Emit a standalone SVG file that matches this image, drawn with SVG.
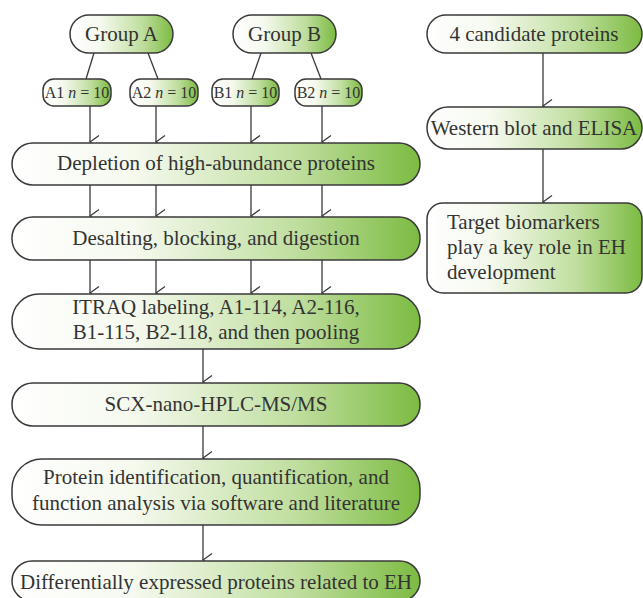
<svg xmlns="http://www.w3.org/2000/svg" width="643" height="598" viewBox="0 0 643 598">
<defs>
<linearGradient id="g" x1="0" y1="0" x2="1" y2="0">
<stop offset="0" stop-color="#ffffff"/>
<stop offset="0.3" stop-color="#f5f9ee"/>
<stop offset="0.7" stop-color="#bfde9e"/>
<stop offset="1" stop-color="#7cbb42"/>
</linearGradient>
<marker id="arr" markerWidth="16" markerHeight="11" refX="8" refY="10" orient="auto-start-reverse" markerUnits="userSpaceOnUse" viewBox="0 0 16 11">
<polyline points="1.5,1 8,10 14.5,1" fill="none" stroke="#3a3a3a" stroke-width="1.3"/>
</marker>
</defs>
<style>
.b{fill:url(#g);stroke:#3a3a3a;stroke-width:1.5}
.t{font-family:"Liberation Serif","DejaVu Serif",serif;fill:#333;font-size:21px;text-anchor:middle}
.s{font-family:"Liberation Serif","DejaVu Serif",serif;fill:#333;font-size:16px;text-anchor:middle}
.l{font-family:"Liberation Serif","DejaVu Serif",serif;fill:#333;font-size:21px}
.c{stroke:#3a3a3a;stroke-width:1.3;fill:none}
</style>
<g id="connectors">
<line class="c" x1="94" y1="53" x2="86" y2="79"/>
<line class="c" x1="148" y1="53" x2="158" y2="79"/>
<line class="c" x1="261" y1="53" x2="252" y2="79"/>
<line class="c" x1="311" y1="53" x2="321" y2="79"/>
<line class="c" x1="90" y1="106" x2="90" y2="142" marker-end="url(#arr)"/>
<line class="c" x1="156" y1="106" x2="156" y2="142" marker-end="url(#arr)"/>
<line class="c" x1="251" y1="106" x2="251" y2="142" marker-end="url(#arr)"/>
<line class="c" x1="322" y1="106" x2="322" y2="142" marker-end="url(#arr)"/>
<line class="c" x1="90" y1="185" x2="90" y2="216" marker-end="url(#arr)"/>
<line class="c" x1="156" y1="185" x2="156" y2="216" marker-end="url(#arr)"/>
<line class="c" x1="251" y1="185" x2="251" y2="216" marker-end="url(#arr)"/>
<line class="c" x1="322" y1="185" x2="322" y2="216" marker-end="url(#arr)"/>
<line class="c" x1="90" y1="260" x2="90" y2="293" marker-end="url(#arr)"/>
<line class="c" x1="156" y1="260" x2="156" y2="293" marker-end="url(#arr)"/>
<line class="c" x1="251" y1="260" x2="251" y2="293" marker-end="url(#arr)"/>
<line class="c" x1="322" y1="260" x2="322" y2="293" marker-end="url(#arr)"/>
<line class="c" x1="203" y1="349" x2="203" y2="382" marker-end="url(#arr)"/>
<line class="c" x1="203" y1="426" x2="203" y2="458" marker-end="url(#arr)"/>
<line class="c" x1="203" y1="525" x2="203" y2="560" marker-end="url(#arr)"/>
<line class="c" x1="543" y1="53" x2="543" y2="106" marker-end="url(#arr)"/>
<line class="c" x1="543" y1="149" x2="543" y2="202" marker-end="url(#arr)"/>
</g>
<g id="groupA"><rect class="b" x="70" y="15" width="103" height="38" rx="19"/><text class="t" x="121.5" y="41" font-size="23">Group A</text></g>
<g id="groupB"><rect class="b" x="233" y="15" width="103" height="38" rx="19"/><text class="t" x="284.5" y="41" font-size="23">Group B</text></g>
<g id="a1"><rect class="b" x="43" y="79" width="68" height="27" rx="11"/><text class="s" x="77" y="98">A1 <tspan font-style="italic">n</tspan> = 10</text></g>
<g id="a2"><rect class="b" x="130" y="79" width="68" height="27" rx="11"/><text class="s" x="164" y="98">A2 <tspan font-style="italic">n</tspan> = 10</text></g>
<g id="b1"><rect class="b" x="212" y="79" width="67" height="27" rx="11"/><text class="s" x="245.5" y="98">B1 <tspan font-style="italic">n</tspan> = 10</text></g>
<g id="b2"><rect class="b" x="295" y="79" width="67" height="27" rx="11"/><text class="s" x="328.5" y="98">B2 <tspan font-style="italic">n</tspan> = 10</text></g>
<g id="depletion"><rect class="b" x="12" y="143" width="408" height="42" rx="21"/><text class="t" x="216" y="170">Depletion of high-abundance proteins</text></g>
<g id="desalting"><rect class="b" x="12" y="217" width="408" height="43" rx="21"/><text class="t" x="216" y="245">Desalting, blocking, and digestion</text></g>
<g id="itraq"><rect class="b" x="12" y="294" width="408" height="55" rx="27"/><text class="t" x="216" y="314">ITRAQ labeling, A1-114, A2-116,</text><text class="t" x="216" y="339">B1-115, B2-118, and then pooling</text></g>
<g id="scx"><rect class="b" x="12" y="383" width="408" height="43" rx="21"/><text class="t" x="216" y="411">SCX-nano-HPLC-MS/MS</text></g>
<g id="protein"><rect class="b" x="12" y="459" width="408" height="66" rx="30"/><text class="t" x="216" y="484">Protein identification, quantification, and</text><text class="t" x="216" y="510">function analysis via software and literature</text></g>
<g id="diff"><rect class="b" x="12" y="561" width="408" height="40" rx="20"/><text class="t" x="216" y="589">Differentially expressed proteins related to EH</text></g>
<g id="candidates"><rect class="b" x="427" y="15" width="215" height="38" rx="19"/><text class="t" x="534" y="41">4 candidate proteins</text></g>
<g id="western"><rect class="b" x="427" y="107" width="215" height="42" rx="21"/><text class="t" x="534" y="135">Western blot and ELISA</text></g>
<g id="target"><rect class="b" x="427" y="203" width="215" height="90" rx="16"/><text class="l" x="447" y="229">Target biomarkers</text><text class="l" x="447" y="254">play a key role in EH</text><text class="l" x="447" y="279">development</text></g>
</svg>
